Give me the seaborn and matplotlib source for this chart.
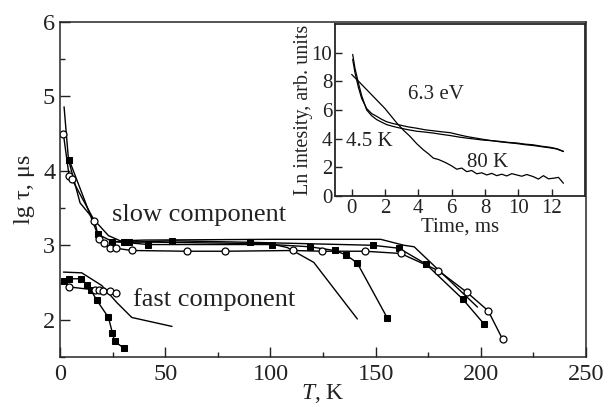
import matplotlib
matplotlib.use("Agg")
import matplotlib.pyplot as plt
import seaborn as sns
import pandas as pd
from matplotlib.ticker import MultipleLocator, FixedLocator

sns.set_style("ticks")
plt.rcParams['font.family'] = ['Liberation Serif', 'DejaVu Serif']
plt.rcParams['mathtext.fontset'] = 'custom'
plt.rcParams['mathtext.it'] = 'Liberation Serif:italic'
plt.rcParams['mathtext.rm'] = 'Liberation Serif'

# ---------------- main panel data (T, K ; lg tau, us) ----------------
# slow component, filled squares (series ending ~155 K)
sqA_T = [4.3, 17.8, 24.9, 30.2, 42.0, 100.8, 118.7, 130.6, 136.0, 141.3, 155.6]
sqA_y = [4.15, 3.15, 3.05, 3.04, 3.01, 3.01, 2.98, 2.93, 2.87, 2.76, 2.02]
# slow component, filled squares (series ending ~200 K)
sqB_T = [32.9, 53.2, 90.5, 148.7, 161.1, 173.8, 191.3, 201.6]
sqB_y = [3.04, 3.06, 3.04, 3.00, 2.96, 2.75, 2.28, 1.94]
# slow component, open circles
ocS_T = [1.6, 4.3, 5.6, 16.3, 18.6, 21.0, 23.8, 26.5, 34.1, 60.3, 78.6, 110.6,
         124.6, 144.9, 161.9, 179.8, 193.3, 203.5, 210.3]
ocS_y = [4.49, 3.93, 3.89, 3.33, 3.08, 3.03, 2.96, 2.96, 2.93, 2.92, 2.92, 2.93,
         2.92, 2.92, 2.89, 2.66, 2.37, 2.12, 1.74]
# slow component, plain lines
ln1_T = [1.9, 4.0, 9.5, 15.9, 23.0, 28.6, 40.0, 100.0, 152.4, 163.5, 168.3, 198.4]
ln1_y = [4.86, 4.15, 3.57, 3.35, 3.13, 3.06, 3.07, 3.08, 3.08, 3.00, 2.98, 2.17]
ln2_T = [25.0, 50.0, 100.0, 108.0, 120.6, 141.3]
ln2_y = [3.05, 3.04, 3.02, 2.97, 2.77, 2.01]

# fast component
sqF_T = [1.9, 4.4, 9.8, 13.0, 14.6, 17.5, 23.0, 24.9, 25.9, 30.2]
sqF_y = [2.52, 2.55, 2.55, 2.47, 2.40, 2.26, 2.03, 1.82, 1.71, 1.62]
ocF_T = [4.4, 16.7, 18.7, 20.6, 23.8, 26.5]
ocF_y = [2.44, 2.40, 2.40, 2.39, 2.39, 2.36]
lnF_T = [1.6, 10.3, 19.8, 27.0, 34.1, 53.2]
lnF_y = [2.64, 2.63, 2.46, 2.23, 2.03, 1.91]

main_xticks = [0, 50, 100, 150, 200, 250]
main_yticks = [2, 3, 4, 5, 6]

# ---------------- inset data (time, ms ; Ln intensity) ----------------
k45a_t = [0.06, 0.2, 0.4, 0.6, 0.9, 1.2, 1.5, 1.8, 2.1, 2.5, 2.9, 3.4, 3.9, 4.4,
          4.9, 5.4, 5.9, 6.4, 6.9, 7.4, 7.9, 8.4, 8.9, 9.4, 9.9, 10.4, 10.9,
          11.4, 11.9, 12.3, 12.7]
k45a_y = [9.88, 8.9, 7.9, 7.0, 6.0, 5.6, 5.33, 5.15, 4.98, 4.85, 4.74, 4.62, 4.52,
          4.46, 4.39, 4.30, 4.22, 4.12, 4.04, 3.97, 3.90, 3.86, 3.81, 3.74, 3.70,
          3.62, 3.57, 3.47, 3.40, 3.30, 3.12]
k45b_t = [0.06, 0.2, 0.4, 0.6, 0.9, 1.2, 1.5, 1.8, 2.1, 2.5, 2.9, 3.4, 3.9, 4.4,
          4.9, 5.4, 5.9, 6.4, 6.9, 7.4, 7.9, 8.4, 8.9, 9.4, 9.9, 10.4, 10.9,
          11.4, 11.9, 12.3, 12.7]
k45b_y = [9.53, 8.6, 7.6, 6.8, 6.1, 5.75, 5.56, 5.35, 5.18, 5.05, 4.95, 4.82, 4.73,
          4.62, 4.55, 4.48, 4.42, 4.28, 4.15, 4.05, 3.95, 3.86, 3.78, 3.72, 3.66,
          3.58, 3.52, 3.44, 3.36, 3.28, 3.10]
k80_t = [0.0, 0.5, 1.0, 1.5, 2.0, 2.7, 3.1, 3.5, 3.9, 4.3, 4.6, 4.9, 5.2, 5.5,
         5.7, 6.0, 6.3, 6.6, 6.9, 7.2, 7.5, 7.8, 8.1, 8.4, 8.7, 9.0, 9.3, 9.6,
         9.9, 10.2, 10.5, 10.9, 11.2, 11.5, 11.8, 12.1, 12.4, 12.7]
k80_y = [8.48, 7.9, 7.3, 6.7, 6.1, 5.1, 4.6, 4.16, 3.65, 3.22, 2.95, 2.64, 2.55,
         2.40, 2.29, 2.10, 1.87, 1.95, 1.70, 1.78, 1.55, 1.62, 1.47, 1.58, 1.42,
         1.52, 1.40, 1.56, 1.47, 1.38, 1.50, 1.35, 1.18, 1.42, 1.20, 1.24, 1.30, 0.89]

inset_xticks = [0, 2, 4, 6, 8, 10, 12]
inset_yticks = [0, 2, 4, 6, 8, 10]

fig = plt.figure(figsize=(6.13, 4.07), dpi=100)
ax = fig.add_axes([0.098, 0.123, 0.858, 0.823])

def line(x, y, a, lw=1.0, **kw):
    sns.lineplot(x=x, y=y, ax=a, sort=False, estimator=None, color='black',
                 linewidth=lw, **kw)

line(ln1_T, ln1_y, ax)
line(ln2_T, ln2_y, ax)
line(lnF_T, lnF_y, ax)
line(sqA_T, sqA_y, ax, marker='s', markersize=4.6, markerfacecolor='black',
     markeredgecolor='black')
line(sqB_T, sqB_y, ax, marker='s', markersize=4.6, markerfacecolor='black',
     markeredgecolor='black')
line(sqF_T, sqF_y, ax, marker='s', markersize=4.6, markerfacecolor='black',
     markeredgecolor='black')
line(ocS_T, ocS_y, ax, marker='o', markersize=5, markerfacecolor='white',
     markeredgecolor='black', markeredgewidth=0.9)
line(ocF_T, ocF_y, ax, marker='o', markersize=5, markerfacecolor='white',
     markeredgecolor='black', markeredgewidth=0.9)

ax.set_xlim(0, 250)
ax.set_ylim(1.5, 6)
ax.xaxis.set_major_locator(FixedLocator(main_xticks))
ax.xaxis.set_minor_locator(MultipleLocator(25))
ax.yaxis.set_major_locator(FixedLocator(main_yticks))
ax.yaxis.set_minor_locator(MultipleLocator(0.5))
ax.tick_params(which='both', direction='in', labelsize=17.5, width=1.0,
               colors='#222222')
ax.tick_params(which='major', length=7)
ax.tick_params(which='minor', length=3.5)
ax.tick_params(axis='x', pad=5)
for s in ax.spines.values():
    s.set_linewidth(1.1)
ax.set_xlabel(r'$\mathit{T}$, K', fontsize=17, labelpad=-2, color='#222222')
ax.set_ylabel('lg τ, μs', fontsize=17.5, labelpad=6, color='#222222')
ax.text(24.8, 3.33, 'slow component', fontsize=19, va='baseline', ha='left',
        color='#222222')
ax.text(34.8, 2.18, 'fast component', fontsize=19, va='baseline', ha='left',
        color='#222222')

# ---------------- inset ----------------
ins = fig.add_axes([0.5465, 0.5184, 0.408, 0.4226])
line(k45a_t, k45a_y, ins, lw=0.9)
line(k45b_t, k45b_y, ins, lw=0.9)
line(k80_t, k80_y, ins, lw=0.9)
ins.set_xlim(-1, 14)
ins.set_ylim(0, 12)
ins.xaxis.set_major_locator(FixedLocator(inset_xticks))
ins.yaxis.set_major_locator(FixedLocator(inset_yticks))
ins.tick_params(direction='in', labelsize=15, length=5, width=1.0, pad=2,
                colors='#222222')
for s in ins.spines.values():
    s.set_linewidth(1.3)
ins.set_xlabel('Time, ms', fontsize=15, labelpad=0, color='#222222')
ins.set_ylabel('Ln intesity, arb. units', fontsize=14.5, labelpad=-1,
               color='#222222')
ins.text(3.4, 7.1, '6.3 eV', fontsize=15, va='center', ha='left', color='#222222')
ins.text(-0.35, 3.8, '4.5 K', fontsize=15, va='center', ha='left', color='#222222')
ins.text(6.9, 2.35, '80 K', fontsize=15, va='center', ha='left', color='#222222')

fig.savefig('out.png', dpi=100)
